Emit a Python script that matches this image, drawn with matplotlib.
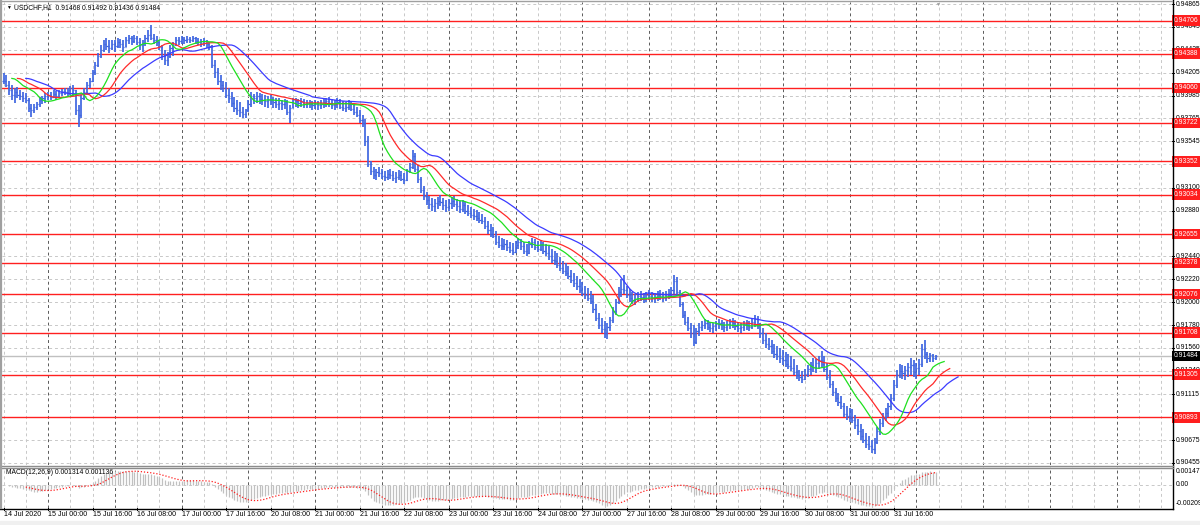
import numpy as np
import matplotlib.pyplot as plt

# ==========================================
# 1) data (USDCHF H1, read off the chart)
# ==========================================
high = [
    0.9420, 0.9418, 0.9413, 0.9409, 0.9406, 0.9407, 0.9404, 0.9402, 0.9401, 0.9396,
    0.9390, 0.9390, 0.9392, 0.9397, 0.9398, 0.9401, 0.9402, 0.9402, 0.9404, 0.9403,
    0.9404, 0.9405, 0.9406, 0.9406, 0.9408, 0.9409, 0.9404, 0.9389, 0.9399, 0.9406,
    0.9412, 0.9415, 0.9423, 0.9431, 0.9439, 0.9447, 0.9452, 0.9454, 0.9452, 0.9452,
    0.9452, 0.9454, 0.9453, 0.9452, 0.9455, 0.9457, 0.9456, 0.9457, 0.9456, 0.9454,
    0.9452, 0.9457, 0.9462, 0.9466, 0.9458, 0.9456, 0.9452, 0.9447, 0.9442, 0.9440,
    0.9447, 0.9450, 0.9455, 0.9455, 0.9456, 0.9455, 0.9456, 0.9455, 0.9456, 0.9455,
    0.9454, 0.9453, 0.9454, 0.9452, 0.9450, 0.9447, 0.9433, 0.9425, 0.9418, 0.9413,
    0.9412, 0.9406, 0.9402, 0.9397, 0.9394, 0.9392, 0.9388, 0.9386, 0.9394, 0.9402,
    0.9400, 0.9402, 0.9401, 0.9400, 0.9399, 0.9398, 0.9399, 0.9397, 0.9396, 0.9396,
    0.9394, 0.9395, 0.9394, 0.9389, 0.9396, 0.9396, 0.9395, 0.9396, 0.9395, 0.9394,
    0.9394, 0.9393, 0.9394, 0.9393, 0.9394, 0.9395, 0.9396, 0.9397, 0.9395, 0.9394,
    0.9396, 0.9395, 0.9393, 0.9392, 0.9394, 0.9393, 0.9390, 0.9388, 0.9385, 0.9380,
    0.9376, 0.9360, 0.9336, 0.9330, 0.9328, 0.9330, 0.9328, 0.9326, 0.9327, 0.9328,
    0.9326, 0.9325, 0.9327, 0.9326, 0.9324, 0.9328, 0.9334, 0.9346, 0.9343, 0.9332,
    0.9320, 0.9312, 0.9306, 0.9302, 0.9300, 0.9299, 0.9301, 0.9303, 0.9300, 0.9298,
    0.9299, 0.9301, 0.9302, 0.9299, 0.9297, 0.9298, 0.9296, 0.9293, 0.9291, 0.9290,
    0.9289, 0.9287, 0.9285, 0.9282, 0.9278, 0.9275, 0.9272, 0.9268, 0.9264, 0.9262,
    0.9261, 0.9260, 0.9258, 0.9257, 0.9259, 0.9262, 0.9261, 0.9258, 0.9256, 0.9259,
    0.9262, 0.9261, 0.9259, 0.9260, 0.9258, 0.9256, 0.9254, 0.9251, 0.9249, 0.9247,
    0.9243, 0.9240, 0.9238, 0.9235, 0.9231, 0.9228, 0.9225, 0.9222, 0.9219, 0.9216,
    0.9214, 0.9211, 0.9207, 0.9198, 0.9190, 0.9185, 0.9182, 0.9180, 0.9186, 0.9195,
    0.9203, 0.9215, 0.9222, 0.9226, 0.9216, 0.9213, 0.9210, 0.9208, 0.9210, 0.9211,
    0.9209, 0.9210, 0.9212, 0.9210, 0.9209, 0.9211, 0.9212, 0.9210, 0.9211, 0.9213,
    0.9215, 0.9226, 0.9224, 0.9212, 0.9200, 0.9192, 0.9186, 0.9180, 0.9178, 0.9175,
    0.9180, 0.9182, 0.9184, 0.9183, 0.9181, 0.9180, 0.9182, 0.9184, 0.9183, 0.9181,
    0.9182, 0.9184, 0.9185, 0.9183, 0.9181, 0.9180, 0.9182, 0.9183, 0.9182, 0.9184,
    0.9188, 0.9187, 0.9180, 0.9175, 0.9170, 0.9166, 0.9164, 0.9160, 0.9158, 0.9156,
    0.9154, 0.9152, 0.9150, 0.9148, 0.9145, 0.9140, 0.9135, 0.9134, 0.9136, 0.9140,
    0.9143, 0.9146, 0.9145, 0.9148, 0.9153, 0.9148, 0.9142, 0.9135, 0.9124, 0.9118,
    0.9113, 0.9110, 0.9103, 0.9100, 0.9098, 0.9097, 0.9092, 0.9088, 0.9083, 0.9078,
    0.9074, 0.9071, 0.9068, 0.9070, 0.9080, 0.9088, 0.9094, 0.9098, 0.9103, 0.9112,
    0.9125, 0.9135, 0.9141, 0.9140, 0.9139, 0.9142, 0.9146, 0.9144, 0.9142, 0.9145,
    0.9160, 0.9164, 0.9152, 0.9151, 0.9150, 0.9149,
]
low = [
    0.9410, 0.9407, 0.9399, 0.9394, 0.9391, 0.9396, 0.9394, 0.9392, 0.9391, 0.9383,
    0.9378, 0.9382, 0.9385, 0.9388, 0.9390, 0.9391, 0.9394, 0.9394, 0.9396, 0.9394,
    0.9397, 0.9398, 0.9399, 0.9397, 0.9399, 0.9398, 0.9380, 0.9368, 0.9377, 0.9394,
    0.9399, 0.9406, 0.9412, 0.9418, 0.9426, 0.9435, 0.9440, 0.9442, 0.9439, 0.9442,
    0.9440, 0.9444, 0.9444, 0.9440, 0.9445, 0.9448, 0.9447, 0.9449, 0.9447, 0.9442,
    0.9440, 0.9446, 0.9450, 0.9452, 0.9448, 0.9446, 0.9442, 0.9433, 0.9428, 0.9427,
    0.9435, 0.9437, 0.9446, 0.9447, 0.9448, 0.9448, 0.9449, 0.9449, 0.9450, 0.9448,
    0.9447, 0.9445, 0.9446, 0.9444, 0.9442, 0.9425, 0.9415, 0.9409, 0.9404, 0.9402,
    0.9396, 0.9391, 0.9388, 0.9383, 0.9380, 0.9378, 0.9377, 0.9377, 0.9383, 0.9388,
    0.9390, 0.9391, 0.9390, 0.9389, 0.9388, 0.9387, 0.9389, 0.9387, 0.9387, 0.9385,
    0.9385, 0.9386, 0.9380, 0.9372, 0.9387, 0.9388, 0.9387, 0.9388, 0.9387, 0.9387,
    0.9387, 0.9385, 0.9386, 0.9385, 0.9386, 0.9387, 0.9388, 0.9388, 0.9386, 0.9385,
    0.9387, 0.9386, 0.9384, 0.9383, 0.9385, 0.9384, 0.9380, 0.9378, 0.9372, 0.9368,
    0.9350, 0.9330, 0.9322, 0.9318, 0.9317, 0.9320, 0.9318, 0.9316, 0.9317, 0.9318,
    0.9316, 0.9315, 0.9317, 0.9316, 0.9314, 0.9316, 0.9324, 0.9328, 0.9325, 0.9315,
    0.9305, 0.9298, 0.9293, 0.9290, 0.9288, 0.9287, 0.9290, 0.9292, 0.9289, 0.9287,
    0.9288, 0.9290, 0.9291, 0.9288, 0.9286, 0.9287, 0.9285, 0.9283, 0.9281, 0.9279,
    0.9278, 0.9276, 0.9275, 0.9270, 0.9266, 0.9263, 0.9262, 0.9255, 0.9252, 0.9250,
    0.9250, 0.9249, 0.9247, 0.9245, 0.9247, 0.9251, 0.9250, 0.9246, 0.9244, 0.9246,
    0.9252, 0.9250, 0.9248, 0.9249, 0.9246, 0.9244, 0.9241, 0.9238, 0.9236, 0.9233,
    0.9230, 0.9227, 0.9225, 0.9222, 0.9218, 0.9215, 0.9212, 0.9209, 0.9206, 0.9203,
    0.9201, 0.9198, 0.9190, 0.9182, 0.9174, 0.9170, 0.9166, 0.9165, 0.9172, 0.9180,
    0.9188, 0.9198, 0.9205, 0.9208, 0.9204, 0.9200, 0.9198, 0.9197, 0.9200, 0.9201,
    0.9199, 0.9200, 0.9202, 0.9200, 0.9199, 0.9201, 0.9202, 0.9200, 0.9201, 0.9203,
    0.9204, 0.9208, 0.9206, 0.9195, 0.9185, 0.9178, 0.9172, 0.9166, 0.9158, 0.9160,
    0.9168, 0.9172, 0.9174, 0.9173, 0.9171, 0.9170, 0.9172, 0.9174, 0.9173, 0.9171,
    0.9172, 0.9174, 0.9175, 0.9173, 0.9171, 0.9170, 0.9172, 0.9173, 0.9172, 0.9174,
    0.9176, 0.9174, 0.9166, 0.9160, 0.9156, 0.9154, 0.9150, 0.9146, 0.9144, 0.9142,
    0.9140, 0.9138, 0.9136, 0.9134, 0.9130, 0.9126, 0.9124, 0.9122, 0.9125, 0.9128,
    0.9130, 0.9133, 0.9132, 0.9136, 0.9138, 0.9133, 0.9125, 0.9118, 0.9110, 0.9104,
    0.9100, 0.9097, 0.9090, 0.9087, 0.9085, 0.9084, 0.9078, 0.9072, 0.9068, 0.9065,
    0.9060, 0.9058, 0.9055, 0.9054, 0.9064, 0.9072, 0.9080, 0.9086, 0.9090, 0.9096,
    0.9105, 0.9118, 0.9127, 0.9126, 0.9125, 0.9128, 0.9130, 0.9128, 0.9126, 0.9130,
    0.9138, 0.9145, 0.9142, 0.9143, 0.9143, 0.9144,
]
close = [
    0.9413, 0.9409, 0.9404, 0.9399, 0.9402, 0.9399, 0.9398, 0.9396, 0.9394, 0.9387,
    0.9385, 0.9388, 0.9390, 0.9394, 0.9396, 0.9398, 0.9399, 0.9397, 0.9400, 0.9398,
    0.9401, 0.9403, 0.9402, 0.9404, 0.9406, 0.9404, 0.9385, 0.9380, 0.9396, 0.9402,
    0.9409, 0.9413, 0.9421, 0.9428, 0.9437, 0.9442, 0.9448, 0.9446, 0.9444, 0.9448,
    0.9446, 0.9450, 0.9448, 0.9445, 0.9452, 0.9454, 0.9451, 0.9454, 0.9450, 0.9447,
    0.9449, 0.9454, 0.9457, 0.9454, 0.9452, 0.9450, 0.9445, 0.9437, 0.9433, 0.9437,
    0.9444, 0.9447, 0.9452, 0.9451, 0.9453, 0.9452, 0.9453, 0.9452, 0.9454, 0.9451,
    0.9450, 0.9449, 0.9451, 0.9448, 0.9446, 0.9428, 0.9421, 0.9413, 0.9409, 0.9406,
    0.9399, 0.9396, 0.9391, 0.9387, 0.9385, 0.9383, 0.9381, 0.9385, 0.9390, 0.9398,
    0.9396, 0.9398, 0.9395, 0.9394, 0.9393, 0.9394, 0.9395, 0.9392, 0.9390, 0.9391,
    0.9390, 0.9392, 0.9383, 0.9387, 0.9394, 0.9393, 0.9391, 0.9393, 0.9390, 0.9391,
    0.9390, 0.9389, 0.9390, 0.9389, 0.9390, 0.9392, 0.9393, 0.9391, 0.9389, 0.9390,
    0.9392, 0.9388, 0.9387, 0.9388, 0.9390, 0.9386, 0.9383, 0.9380, 0.9375, 0.9372,
    0.9355, 0.9333, 0.9326, 0.9322, 0.9325, 0.9324, 0.9321, 0.9320, 0.9323, 0.9322,
    0.9319, 0.9320, 0.9322, 0.9318, 0.9317, 0.9326, 0.9330, 0.9340, 0.9328, 0.9318,
    0.9308, 0.9302, 0.9298, 0.9294, 0.9292, 0.9295, 0.9297, 0.9296, 0.9293, 0.9291,
    0.9295, 0.9297, 0.9294, 0.9292, 0.9290, 0.9293, 0.9288, 0.9286, 0.9284, 0.9283,
    0.9281, 0.9279, 0.9278, 0.9273, 0.9269, 0.9266, 0.9264, 0.9258, 0.9255, 0.9254,
    0.9256, 0.9253, 0.9250, 0.9248, 0.9255, 0.9258, 0.9254, 0.9249, 0.9247, 0.9256,
    0.9258, 0.9253, 0.9251, 0.9255, 0.9249, 0.9247, 0.9244, 0.9241, 0.9240, 0.9236,
    0.9233, 0.9230, 0.9228, 0.9225, 0.9221, 0.9218, 0.9216, 0.9212, 0.9209, 0.9207,
    0.9204, 0.9201, 0.9193, 0.9185, 0.9178, 0.9174, 0.9170, 0.9176, 0.9183, 0.9192,
    0.9200, 0.9210, 0.9213, 0.9212, 0.9207, 0.9204, 0.9202, 0.9203, 0.9206, 0.9205,
    0.9203, 0.9207, 0.9206, 0.9204, 0.9205, 0.9207, 0.9206, 0.9204, 0.9208, 0.9209,
    0.9212, 0.9220, 0.9210, 0.9198, 0.9188, 0.9181, 0.9175, 0.9170, 0.9162, 0.9172,
    0.9176, 0.9178, 0.9180, 0.9176, 0.9175, 0.9177, 0.9179, 0.9180, 0.9178, 0.9176,
    0.9179, 0.9181, 0.9180, 0.9177, 0.9175, 0.9176, 0.9179, 0.9178, 0.9176, 0.9181,
    0.9184, 0.9178, 0.9170, 0.9164, 0.9160, 0.9158, 0.9153, 0.9150, 0.9148, 0.9146,
    0.9144, 0.9141, 0.9139, 0.9137, 0.9133, 0.9130, 0.9128, 0.9126, 0.9131, 0.9136,
    0.9140, 0.9138, 0.9142, 0.9144, 0.9141, 0.9136, 0.9128, 0.9121, 0.9114, 0.9108,
    0.9104, 0.9100, 0.9093, 0.9091, 0.9089, 0.9087, 0.9082, 0.9076, 0.9071, 0.9068,
    0.9064, 0.9062, 0.9059, 0.9066, 0.9076, 0.9084, 0.9090, 0.9094, 0.9100, 0.9108,
    0.9120, 0.9130, 0.9134, 0.9132, 0.9135, 0.9138, 0.9140, 0.9133, 0.9137, 0.9141,
    0.9155, 0.9150, 0.9146, 0.9149, 0.9146, 0.91484,
]

time_labels = ["14 Jul 2020", "15 Jul 00:00", "15 Jul 16:00", "16 Jul 08:00", "17 Jul 00:00",
               "17 Jul 16:00", "20 Jul 08:00", "21 Jul 00:00", "21 Jul 16:00", "22 Jul 08:00",
               "23 Jul 00:00", "23 Jul 16:00", "24 Jul 08:00", "27 Jul 00:00", "27 Jul 16:00",
               "28 Jul 08:00", "29 Jul 00:00", "29 Jul 16:00", "30 Jul 08:00", "31 Jul 00:00",
               "31 Jul 16:00"]
price_ticks = [0.94865, 0.94645, 0.94425, 0.94205, 0.93985, 0.93765, 0.93545, 0.93325,
               0.93100, 0.92880, 0.92660, 0.92440, 0.92220, 0.92000, 0.91780, 0.91560,
               0.91340, 0.91115, 0.90895, 0.90675, 0.90455]
levels = [0.94706, 0.94388, 0.94060, 0.93722, 0.93352, 0.93034, 0.92655, 0.92378,
          0.92076, 0.91708, 0.91305, 0.90893]
bid = 0.91484
title_text = "USDCHF,H1  0.91468 0.91492 0.91436 0.91484"
macd_text = "MACD(12,26,9) 0.001314 0.001136"

high = np.array(high)
low = np.array(low)
close = np.array(close)
n = len(close)
x = np.arange(n)
opn = np.r_[close[0], close[:-1]]


# ==========================================
# 2) indicators (Alligator + MACD)
# ==========================================
def smma(src, period):
    out = np.empty(len(src))
    out[0] = src[0]
    for k in range(1, len(src)):
        out[k] = (out[k - 1] * (period - 1) + src[k]) / period
    return out


def ema(src, period):
    a = 2.0 / (period + 1)
    out = np.empty(len(src))
    out[0] = src[0]
    for k in range(1, len(src)):
        out[k] = a * src[k] + (1 - a) * out[k - 1]
    return out


median = (high + low) / 2
jaw = smma(median, 13)
teeth = smma(median, 8)
lips = smma(median, 5)

macd = ema(close, 12) - ema(close, 26)
signal = np.convolve(macd, np.ones(9) / 9, mode="full")[:n]
signal[:8] = np.nan

# ==========================================
# 3) layout
# ==========================================
plt.rcParams["font.family"] = ["Liberation Sans", "DejaVu Sans"]
W, H = 1200, 525
fig = plt.figure(figsize=(12, 5.25), dpi=100)
fig.patch.set_facecolor("white")

px = 2.783          # pixels per bar
x0 = 3.5            # pixel of first bar
xmin = -(x0 - 2) / px
xmax = xmin + 1170 / px

ax = fig.add_axes([2 / W, 1 - 465 / H, 1170 / W, 463 / H])
axm = fig.add_axes([2 / W, 1 - 508 / H, 1170 / W, 41 / H])

ppx = 0.0441 / 459
ax.set_ylim(0.90455 - 2 * ppx, 0.94865 + 2 * ppx)
mpx = 0.003562 / 38
axm.set_ylim(-0.00209 - mpx, 0.001472 + 2 * mpx)

for a in (ax, axm):
    a.set_xlim(xmin, xmax)
    a.set_xticks([])
    a.set_yticks([])
    for s in a.spines.values():
        s.set_visible(False)

# grid
grid_light = "#c8c8c8"
grid_dark = "#5a5a5a"
for k, g in enumerate(range(0, int(xmax) + 1, 8)):
    dark = (k % 3 == 2)
    for a in (ax, axm):
        a.axvline(g, color=grid_dark if dark else grid_light, lw=0.7,
                  ls=(0, (3, 3)), zorder=0)
for p in price_ticks:
    ax.axhline(p, color=grid_light, lw=0.7, ls=(0, (3, 3)), zorder=0)
axm.axhline(0, color=grid_light, lw=0.7, ls=(0, (3, 3)), zorder=0)

# levels + bid line
for lv in levels:
    ax.axhline(lv, color="#ff2020", lw=1.0, zorder=2)
ax.axhline(bid, color="#c0c0c0", lw=1.0, zorder=2)

# bars
bar_col = "#3f66e0"
ax.vlines(x, low, high, color=bar_col, lw=1.25, zorder=3)
ax.hlines(opn, x - 0.4, x, color=bar_col, lw=0.9, zorder=3)
ax.hlines(close, x, x + 0.4, color=bar_col, lw=0.9, zorder=3)

# alligator (shifted forward)
ax.plot(x + 8, jaw, color="#3b3bff", lw=0.9, zorder=4)
ax.plot(x + 5, teeth, color="#ff2a2a", lw=0.9, zorder=4)
ax.plot(x + 3, lips, color="#1ee01e", lw=0.9, zorder=4)

# macd
axm.vlines(x, 0, macd, color="#c0c0c0", lw=0.9, zorder=2)
axm.plot(x, signal, color="#ff2020", lw=0.9, ls=(0, (1, 1.5)), zorder=3)

# borders
fig.add_artist(plt.Line2D([1172.5 / W] * 2, [1, 1 - 508.5 / H], color="black", lw=1.0))
fig.add_artist(plt.Line2D([0, 1172.5 / W], [1 - 508.5 / H] * 2, color="black", lw=1.0))
fig.add_artist(plt.Line2D([0, 1172.5 / W], [1 - 465.5 / H] * 2, color="#8c8c8c", lw=1.0))
fig.add_artist(plt.Line2D([0, 1172.5 / W], [1 - 467.5 / H] * 2, color="#8c8c8c", lw=1.0))
fig.add_artist(plt.Line2D([0.8 / W] * 2, [1, 1 - 508 / H], color="#a0a0a0", lw=1.6))
fig.add_artist(plt.Line2D([0, 1172 / W], [1 - 0.5 / H] * 2, color="#a0a0a0", lw=1.0))
fig.add_artist(plt.Rectangle((0, 0), 1, 4 / H, color="#f0f0f0", transform=fig.transFigure))

# ==========================================
# 4) texts
# ==========================================
fs = 4.9
ytr = ax.get_yaxis_transform()
xr = (1176 - 2) / 1170
for p in price_ticks:
    ax.text(xr, p, f"{p:.5f}", fontsize=fs, va="center", ha="left",
            transform=ytr, clip_on=False, zorder=5)
    ax.plot([1.0, 1.002], [p, p], color="black", lw=0.7, transform=ytr, clip_on=False)
for lv in levels:
    ax.text(1.0013, lv, f"{lv:.5f}", fontsize=fs, va="center", ha="left", color="white",
            transform=ytr, clip_on=False, zorder=6,
            bbox=dict(boxstyle="square,pad=0.25", fc="#ff1e1e", ec="none"))
ax.text(1.0013, bid, f"{bid:.5f}", fontsize=fs, va="center", ha="left", color="white",
        transform=ytr, clip_on=False, zorder=6,
        bbox=dict(boxstyle="square,pad=0.25", fc="black", ec="none"))

ax.text(4 / 1170, 1 - 5.5 / 463, "\u25bc", fontsize=3.5, va="center", ha="left",
        transform=ax.transAxes)
ax.text(12 / 1170, 1 - 6 / 463, title_text, fontsize=fs, va="center", ha="left",
        transform=ax.transAxes)
ax.text((937 - 2) / 1170, 1 - 2 / 463, "\u25bc", fontsize=3.5, va="center", ha="center",
        color="#9a9a9a", transform=ax.transAxes, clip_on=False)

axm.text(4 / 1170, (508 - 473) / 41, macd_text, fontsize=fs, va="center", ha="left",
         transform=axm.transAxes)
for lab, yy in [("0.001472", 471.5), ("0.00", 485), ("-0.00209", 503.5)]:
    axm.text(xr, (508 - yy) / 41, lab, fontsize=fs, va="center", ha="left",
             transform=axm.transAxes, clip_on=False)

xtr = axm.get_xaxis_transform()
for k, lab in enumerate(time_labels):
    b = 16 * k
    axm.text(b, -(515 - 508) / 41, lab, fontsize=5.1, va="center", ha="left",
             transform=xtr, clip_on=False)
    axm.plot([b, b], [0, -2 / 41], color="black", lw=0.7, transform=xtr, clip_on=False)

fig.savefig("out.png", dpi=100)
